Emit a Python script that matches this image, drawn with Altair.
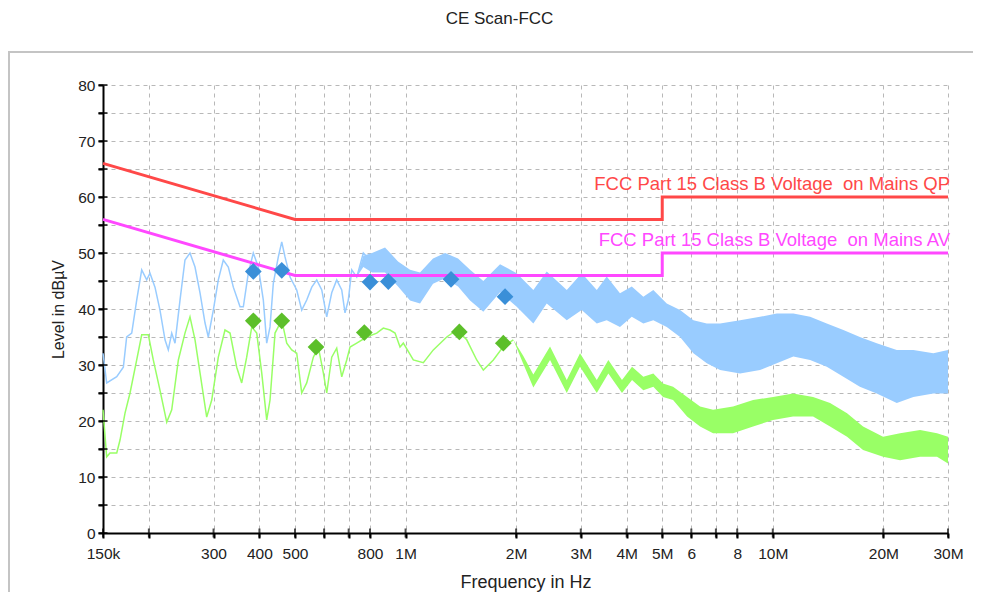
import altair as alt
import pandas as pd

# ---------------- data (frequency in kHz, level in dBµV) ----------------
# Peak trace (light blue): low-frequency part drawn as a line
pk_line_f = [150, 153.5, 163.5, 170.4, 174.0, 179.6, 185.3, 191.2, 197.3, 201.4,
             207.8, 214.4, 221.3, 225.9, 230.8, 235.6, 243.1, 250.8, 258.8, 267.1,
             275.6, 284.4, 290.3, 299.6, 309.1, 318.9, 329.1, 339.6, 354.2, 361.6,
             373.1, 384.9, 397.2, 409.9, 418.7, 427.5, 436.4, 450.3, 460.1, 469.6,
             484.7, 505.4, 521.5, 538.1, 555.4, 573.0, 591.3, 610.0, 629.4, 649.4,
             670.2, 684.1, 698.4, 713.5, 736.2, 767.4, 800.2]
pk_line_l = [32.1, 26.8, 27.9, 29.6, 35.0, 35.7, 41.6, 47.0, 45.2, 46.4,
             43.9, 39.8, 34.5, 32.7, 35.7, 33.9, 41.6, 48.75, 50.0, 47.5,
             42.9, 37.5, 35.0, 39.8, 45.2, 48.75, 47.5, 43.9, 40.4, 40.4,
             46.4, 50.0, 47.5, 41.6, 33.9, 36.8, 44.6, 49.3, 52.0, 49.3,
             45.7, 43.4, 39.8, 41.6, 43.9, 45.2, 43.4, 38.6, 42.9, 45.2,
             43.4, 39.3, 41.6, 47.0, 45.7, 50.0, 48.75]
# Peak trace: dense noisy part drawn as a min/max band
pk_band_f = [736.2, 767.4, 810.4, 879.2, 953.9, 1028.6, 1095, 1187.9, 1281.1, 1389.6, 1498.3,
             1628.4, 1808.4, 2007.8, 2228.3, 2423.4, 2747.7, 3017.9, 3316.7, 3530.4, 3836,
             4130, 4441, 4728, 5143, 5591, 6078, 6611, 7184, 8145, 9231,
             10254, 11377, 12635, 14028, 15567, 17262, 19191, 21758, 24143, 27369, 30000]
pk_band_lo = [45.7, 47.5, 46.5, 46.5, 44.0, 41.5, 41.0, 44.5, 45.5, 44.0, 41.5,
              39.5, 43.0, 40.4, 37.4, 41.0, 38.0, 39.8, 37.4, 38.0, 36.8,
              38.6, 37.4, 38.0, 36.8, 35.0, 32.1, 30.3, 29.1, 28.5, 29.1,
              30.3, 31.5, 30.9, 29.7, 27.9, 26.1, 24.9, 23.2, 24.3, 24.9, 24.9]
pk_band_hi = [45.7, 49.5, 50.0, 51.0, 48.5, 47.0, 46.5, 49.0, 50.0, 49.0, 47.0,
              45.0, 48.0, 46.4, 43.4, 46.7, 43.4, 46.4, 43.4, 45.8, 42.8,
              44.0, 42.2, 43.4, 41.0, 39.8, 38.0, 37.4, 37.4, 38.0, 38.6,
              39.2, 39.2, 38.6, 37.4, 36.25, 35.0, 33.9, 32.7, 32.7, 32.1, 32.7]

# Average trace (light green): line part
av_line_f = [150, 153.5, 156.7, 163.5, 166.9, 172.2, 177.7, 185.3, 191.2, 199.3,
             205.6, 214.4, 223.7, 230.8, 240.6, 250.8, 258.8, 267.1, 275.6, 287.4,
             296.6, 309.1, 322.3, 332.7, 346.9, 357.9, 369.3, 381.2, 393.3, 405.8,
             418.7, 427.5, 441.1, 460.1, 474.7, 489.8, 505.4, 521.5, 538.1, 560.9,
             578.7, 597.2, 610.0, 629.4, 649.4, 670.2, 691.5, 706.0, 736.2, 783.8,
             834.6, 869.8, 907.2, 936.1, 965.9, 986.1, 1049.8, 1117.9, 1190.1, 1294.5,
             1378.2, 1467.5, 1562.4, 1628.4, 1733.9, 1845.9, 1965.6]
av_line_l = [22.0, 13.6, 14.3, 14.3, 16.6, 21.4, 25.0, 30.9, 35.4, 35.4,
             30.9, 25.5, 19.8, 22.0, 30.9, 35.7, 38.6, 34.5, 28.6, 20.7,
             23.75, 31.4, 36.25, 35.7, 29.6, 26.8, 31.4, 36.8, 35.7, 28.6,
             20.2, 23.75, 35.7, 38.0, 33.9, 32.7, 32.1, 25.0, 26.8, 31.4,
             33.2, 28.6, 25.0, 31.4, 33.0, 27.9, 30.9, 33.2, 33.9, 35.0,
             35.7, 36.6, 36.25, 35.7, 33.2, 33.9, 30.9, 30.4, 32.7, 35.0,
             36.25, 34.5, 30.9, 29.1, 30.9, 33.3, 34.5]
# Average trace: band part
av_band_f = [1965.6, 2092.7, 2228.3, 2474.1, 2747.7, 2986, 3316.7, 3566, 3885, 4137, 4441, 4728,
             5025, 5351, 5843, 6339, 6876, 7794, 8837, 10019, 11355, 12875,
             14322, 15930, 17612, 19967, 22214, 25182, 28005, 30000]
av_band_lo = [34.5, 30.2, 26.0, 30.9, 25.0, 29.7, 25.0, 28.5, 25.0, 27.3, 25.5, 26.1,
              24.3, 23.75, 20.8, 19.0, 17.8, 17.8, 19.0, 20.2, 20.8, 20.8,
              19.0, 17.2, 14.8, 13.6, 13.0, 13.6, 13.6, 12.4]
av_band_hi = [34.5, 31.6, 28.3, 33.3, 27.3, 32.1, 27.3, 30.9, 27.3, 29.7, 27.9, 28.5,
              26.7, 26.1, 24.3, 22.6, 22.0, 22.6, 23.75, 24.3, 24.9, 24.3,
              23.2, 21.4, 19.0, 17.2, 17.8, 18.4, 17.8, 17.2]

# Final measurement markers
qp_mark_f = [384.9, 460.1, 800.2, 897.6, 1329.9, 1866]
qp_mark_l = [46.7, 46.9, 44.8, 44.9, 45.3, 42.2]
av_mark_f = [384.9, 460.1, 570.4, 772.2, 1401, 1845.9]
av_mark_l = [37.9, 37.9, 33.2, 35.8, 35.9, 33.9]

# Limit lines
qp_lim_f = [150, 500, 5000, 5000, 30000]
qp_lim_l = [66, 56, 56, 60, 60]
av_lim_f = [150, 500, 5000, 5000, 30000]
av_lim_l = [56, 46, 46, 50, 50]
lim_names = ["FCC Part 15 Class B Voltage \u00a0on Mains QP",
             "FCC Part 15 Class B Voltage \u00a0on Mains AV"]
lim_label_f = [30000, 30000]
lim_label_l = [60, 50]

# Axis ticks
x_tick_vals = [150, 200, 300, 400, 500, 600, 700, 800, 1000, 2000, 3000, 4000,
               5000, 6000, 7000, 8000, 10000, 20000, 30000]
x_tick_text = ["150k", "", "300", "400", "500", "", "", "800", "1M", "2M", "3M", "4M",
               "5M", "6", "", "8", "10M", "20M", "30M"]
y_tick_vals = list(range(0, 85, 5))

# ---------------- styling ----------------
FONT = "Liberation Sans"
TXT = "#222222"
C_PK = "#99ccff"
C_AV = "#99ff66"
C_QPM = "#3a8fd8"
C_AVM = "#5cbf2a"
C_QP = "#ff4848"
C_AVL = "#ff48ff"

label_expr = ""
for v, t in zip(x_tick_vals, x_tick_text):
    label_expr += f"datum.value == {v} ? '{t}' : "
label_expr += "''"

xs = alt.Scale(type="log", domain=[150, 30000], nice=False)
ys = alt.Scale(domain=[0, 80], nice=False, zero=False)

x_axis = alt.Axis(values=x_tick_vals, labelExpr=label_expr, labelOverlap=False,
                  labelFlush=False, grid=True, gridDash=[4, 4], gridColor="#b8b8b8",
                  gridWidth=1, domainColor="black", domainWidth=2, tickColor="black",
                  tickWidth=2, tickSize=5, labelFont=FONT, labelFontSize=15.5,
                  labelColor=TXT, labelPadding=8, title="Frequency in Hz",
                  titleFont=FONT, titleFontSize=18, titleFontWeight="normal",
                  titleColor=TXT, titlePadding=12)
y_axis = alt.Axis(values=y_tick_vals, labelExpr="datum.value % 10 == 0 ? datum.label : ''",
                  labelOverlap=False, labelFlush=False, grid=True, gridDash=[4, 4],
                  gridColor="#b8b8b8", gridWidth=1, domainColor="black", domainWidth=2,
                  tickColor="black", tickWidth=2, tickSize=5, labelFont=FONT,
                  labelFontSize=15.5, labelColor=TXT, labelPadding=3,
                  title="Level in dBµV", titleFont=FONT, titleFontSize=16,
                  titleFontWeight="normal", titleColor=TXT, titlePadding=11)

X = alt.X("f:Q", scale=xs, axis=x_axis)
Y = alt.Y("l:Q", scale=ys, axis=y_axis)

# ---------------- tables ----------------
pk_line = pd.DataFrame({"f": pk_line_f, "l": pk_line_l})
pk_band = pd.DataFrame({"f": pk_band_f, "l": pk_band_lo, "h": pk_band_hi})
av_line = pd.DataFrame({"f": av_line_f, "l": av_line_l})
av_band = pd.DataFrame({"f": av_band_f, "l": av_band_lo, "h": av_band_hi})
qp_marks = pd.DataFrame({"f": qp_mark_f, "l": qp_mark_l})
av_marks = pd.DataFrame({"f": av_mark_f, "l": av_mark_l})
qp_lim = pd.DataFrame({"f": qp_lim_f, "l": qp_lim_l, "o": list(range(len(qp_lim_f)))})
av_lim = pd.DataFrame({"f": av_lim_f, "l": av_lim_l, "o": list(range(len(av_lim_f)))})
lab_qp = pd.DataFrame({"f": lim_label_f[:1], "l": lim_label_l[:1], "t": lim_names[:1]})
lab_av = pd.DataFrame({"f": lim_label_f[1:], "l": lim_label_l[1:], "t": lim_names[1:]})
yticks = pd.DataFrame({"f": [150] * len(y_tick_vals), "l": y_tick_vals})
xticks = pd.DataFrame({"f": x_tick_vals, "l": [0] * len(x_tick_vals)})
frame = pd.DataFrame({"a": [0]})

# ---------------- layers ----------------
border = alt.Chart(frame).mark_rect(filled=False, stroke="#c4c4c4", strokeWidth=2).encode(
    x=alt.value(-94), x2=alt.value(900), y=alt.value(-33), y2=alt.value(512))

pk_l = alt.Chart(pk_line).mark_line(color=C_PK, strokeWidth=1.5).encode(x=X, y=Y)
pk_b = alt.Chart(pk_band).mark_area(color=C_PK, opacity=1).encode(x=X, y=Y, y2=alt.Y2("h:Q"))
av_l = alt.Chart(av_line).mark_line(color=C_AV, strokeWidth=1.5).encode(x=X, y=Y)
av_b = alt.Chart(av_band).mark_area(color=C_AV, opacity=1).encode(x=X, y=Y, y2=alt.Y2("h:Q"))

qp_line = alt.Chart(qp_lim).mark_line(color=C_QP, strokeWidth=3).encode(
    x=X, y=Y, order=alt.Order("o:Q"))
av_line_lim = alt.Chart(av_lim).mark_line(color=C_AVL, strokeWidth=3).encode(
    x=X, y=Y, order=alt.Order("o:Q"))

qp_txt = alt.Chart(lab_qp).mark_text(align="right", baseline="bottom", dx=2, dy=-3,
                                     font=FONT, fontSize=18.5, color=C_QP).encode(
    x=X, y=Y, text="t:N")
av_txt = alt.Chart(lab_av).mark_text(align="right", baseline="bottom", dx=2, dy=-3,
                                     font=FONT, fontSize=18.5, color=C_AVL).encode(
    x=X, y=Y, text="t:N")

qp_pts = alt.Chart(qp_marks).mark_point(shape="diamond", filled=True, size=280,
                                        opacity=1, color=C_QPM).encode(x=X, y=Y)
av_pts = alt.Chart(av_marks).mark_point(shape="diamond", filled=True, size=280,
                                        opacity=1, color=C_AVM).encode(x=X, y=Y)

ytk = alt.Chart(yticks).mark_tick(orient="horizontal", size=9, thickness=2,
                                  color="black").encode(x=X, y=Y)
xtk = alt.Chart(xticks).mark_tick(orient="vertical", size=9, thickness=2,
                                  color="black").encode(x=X, y=Y)

chart = alt.layer(
    border, pk_b, pk_l, av_b, av_l, qp_line, av_line_lim, qp_txt, av_txt, qp_pts, av_pts,
    ytk, xtk
).properties(
    width=845, height=448,
    autosize=alt.AutoSizeParams(type="none"),
    padding={"left": 95, "top": 77, "right": 25, "bottom": 59},
    title=alt.TitleParams("CE Scan-FCC", font=FONT, fontSize=17, fontWeight="normal",
                          color=TXT, anchor="middle", dx=-26, offset=23),
    background="white",
).configure_view(strokeWidth=0)

chart.save("out.html", embed_options={"renderer": "svg", "actions": False})
